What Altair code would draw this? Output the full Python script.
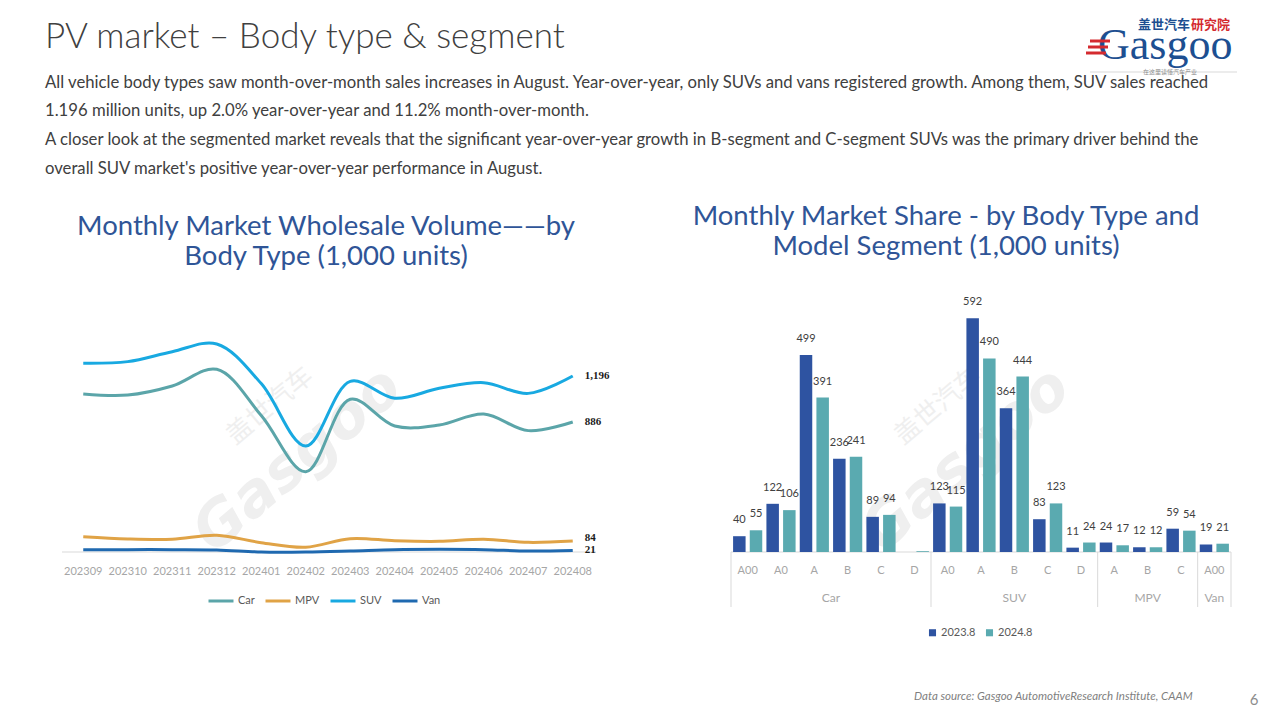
import altair as alt
import pandas as pd

# ---------------- data ----------------
months = ["202309", "202310", "202311", "202312", "202401", "202402",
          "202403", "202404", "202405", "202406", "202407", "202408"]
car = [1075, 1068, 1129, 1241, 930, 551, 1039, 859, 866, 940, 828, 886]
mpv = [113, 98, 96, 123, 73, 42, 100, 86, 82, 96, 75, 84]
suv = [1282, 1293, 1360, 1412, 1145, 724, 1160, 1046, 1113, 1151, 1079, 1196]
van = [26, 26, 26, 24, 10, 10, 17, 26, 28, 26, 17, 21]
body_types = ["Car", "MPV", "SUV", "Van"]
line_colors = ["#5ba5a9", "#e0a346", "#18a9e1", "#1f69b0"]

groups = ["Car"] * 6 + ["SUV"] * 5 + ["MPV"] * 3 + ["Van"]
segments = ["A00", "A0", "A", "B", "C", "D",
            "A0", "A", "B", "C", "D",
            "A", "B", "C",
            "A00"]
v2023 = [40, 122, 499, 236, 89, 0, 123, 592, 364, 83, 11, 24, 12, 59, 19]
v2024 = [55, 106, 391, 241, 94, 2, 115, 490, 444, 123, 24, 17, 12, 54, 21]
years = ["2023.8", "2024.8"]
bar_colors = ["#2e53a1", "#5aaab0"]
group_names = ["Car", "SUV", "MPV", "Van"]
group_start_keys = ["Car|A00", "SUV|A0", "MPV|A", "Van|A00"]
group_even_mid = ["Car|B"]            # label sits at left edge of this band
group_odd_mid = ["SUV|B", "MPV|B", "Van|A00"]  # label sits at centre of band

page_title = "PV market \u2013 Body type & segment"
paragraph = [
    "All vehicle body types saw month-over-month sales increases in August. Year-over-year, only SUVs and vans registered growth. Among them, SUV sales reached",
    "1.196 million units, up 2.0% year-over-year and 11.2% month-over-month.",
    "A closer look at the segmented market reveals that the significant year-over-year growth in B-segment and C-segment SUVs was the primary driver behind the",
    "overall SUV market's positive year-over-year performance in August.",
]
left_title = ["Monthly Market Wholesale Volume\u2014\u2014by", "Body Type (1,000 units)"]
right_title = ["Monthly Market Share - by Body Type and", "Model Segment (1,000 units)"]
footer = "Data source: Gasgoo AutomotiveResearch Institute, CAAM"
page_no = "6"

# ---------------- tables ----------------
line_df = pd.DataFrame({
    "month": months * 4,
    "type": sum([[t] * len(months) for t in body_types], []),
    "value": car + mpv + suv + van,
})
keys = [g + "|" + s for g, s in zip(groups, segments)]
bar_df = pd.DataFrame({
    "key": keys * 2,
    "seg": segments * 2,
    "year": [years[0]] * len(keys) + [years[1]] * len(keys),
    "value": v2023 + v2024,
})
seg_df = pd.DataFrame({"key": keys, "seg": segments})
one = pd.DataFrame({"a": [0]})

FONT = "Lato"
GREY = "#a6a6a6"
TXT = "#404040"
BLUE_T = "#2f5597"

# ---------------- left chart ----------------
XL = alt.X("month:O", scale=alt.Scale(type="point", domain=months, range=[53, 587], padding=0.5), axis=None)
YL = alt.Y("value:Q", scale=alt.Scale(domain=[0, 1500], range=[545.5, 322.9], nice=False, zero=True), axis=None)

lines = alt.Chart(line_df).mark_line(interpolate="catmull-rom", strokeWidth=3).encode(
    x=XL, y=YL,
    color=alt.Color("type:N", scale=alt.Scale(domain=body_types, range=line_colors),
                    legend=alt.Legend(orient="none", legendX=199, legendY=579, direction="horizontal",
                                      title=None, symbolType="stroke", symbolSize=625,
                                      symbolStrokeWidth=3, labelFontSize=11, labelColor="#595959",
                                      labelFont=FONT, columnPadding=4, labelOffset=3)),
)
end_lab_main = alt.Chart(line_df).transform_filter(
    "datum.month == '202408' && datum.type != 'MPV'"
).mark_text(align="left", baseline="middle", dx=12, font="Liberation Serif", fontWeight="bold",
            fontSize=11, color="#1a1a1a").encode(x=XL, y=YL, text=alt.Text("value:Q", format=","))
end_lab_mpv = alt.Chart(line_df).transform_filter(
    "datum.month == '202408' && datum.type == 'MPV'"
).mark_text(align="left", baseline="middle", dx=12, dy=-3, font="Liberation Serif", fontWeight="bold",
            fontSize=11, color="#1a1a1a").encode(x=XL, y=YL, text=alt.Text("value:Q", format=","))
xlabels_left = alt.Chart(pd.DataFrame({"month": months})).mark_text(
    fontSize=11, color=GREY, font=FONT, baseline="middle"
).encode(x=XL, y=alt.value(564), text="month:N")

left = alt.layer(lines, end_lab_main, end_lab_mpv, xlabels_left)

# ---------------- right chart ----------------
XR_scale = alt.Scale(domain=keys, range=[723, 1223], paddingInner=0, paddingOuter=0)
YR = alt.Y("value:Q", scale=alt.Scale(domain=[0, 600], range=[544, 307], nice=False), axis=None)
XO = alt.XOffset("year:N", scale=alt.Scale(domain=years, paddingInner=0.25, paddingOuter=0.125))

bars = alt.Chart(bar_df).mark_bar().encode(
    x=alt.X("key:N", scale=XR_scale, axis=None), y=YR, xOffset=XO,
    color=alt.Color("year:N", scale=alt.Scale(domain=years, range=bar_colors),
                    legend=alt.Legend(orient="none", legendX=919, legendY=619, direction="horizontal",
                                      title=None, symbolType="square", symbolSize=50,
                                      labelFontSize=11, labelColor="#595959", labelFont=FONT,
                                      columnPadding=8, labelOffset=3)),
)
bar_labels = alt.Chart(bar_df).transform_filter("datum.value >= 5").mark_text(
    dy=-16, fontSize=11, color=TXT, font=FONT, baseline="middle"
).encode(x=alt.X("key:N", scale=XR_scale, axis=None), y=YR, xOffset=XO, text="value:Q")
seg_labels = alt.Chart(seg_df).mark_text(fontSize=11, color=GREY, font=FONT, baseline="middle").encode(
    x=alt.X("key:N", scale=XR_scale, axis=None), y=alt.value(563), text="seg:N")
grp_even = alt.Chart(pd.DataFrame({"key": group_even_mid, "g": ["Car"]})).mark_text(
    fontSize=12, color=GREY, font=FONT, baseline="middle"
).encode(x=alt.X("key:N", scale=XR_scale, axis=None, bandPosition=0), y=alt.value(590), text="g:N")
grp_odd = alt.Chart(pd.DataFrame({"key": group_odd_mid, "g": group_names[1:]})).mark_text(
    fontSize=12, color=GREY, font=FONT, baseline="middle"
).encode(x=alt.X("key:N", scale=XR_scale, axis=None, bandPosition=0.5), y=alt.value(590), text="g:N")
sep_start = alt.Chart(pd.DataFrame({"key": group_start_keys})).mark_rule(color="#d9d9d9", strokeWidth=1).encode(
    x=alt.X("key:N", scale=XR_scale, axis=None, bandPosition=0), y=alt.value(544), y2=alt.value(599))
sep_end = alt.Chart(pd.DataFrame({"key": [keys[-1]]})).mark_rule(color="#d9d9d9", strokeWidth=1).encode(
    x=alt.X("key:N", scale=XR_scale, axis=None, bandPosition=1), y=alt.value(544), y2=alt.value(599))

right = alt.layer(bars, bar_labels, seg_labels, grp_even, grp_odd, sep_start, sep_end)

# ---------------- decorations ----------------
def txt(text, x, y, **kw):
    return alt.Chart(one).mark_text(text=text, **kw).encode(x=alt.value(x), y=alt.value(y))

def hrule(x1, x2, y, color, width):
    return alt.Chart(one).mark_rule(color=color, strokeWidth=width).encode(
        x=alt.value(x1), x2=alt.value(x2), y=alt.value(y))

wm_color = "#efefef"
decor = [
    txt("Gasgoo", 290, 452, fontSize=60, font="DejaVu Sans", fontWeight="bold", color=wm_color, angle=320, fontStyle="italic"),
    txt("盖世汽车", 262, 398, fontSize=26, font="Noto Sans CJK SC", color=wm_color, angle=320),
    txt("Gasgoo", 958, 452, fontSize=60, font="DejaVu Sans", fontWeight="bold", color=wm_color, angle=320, fontStyle="italic"),
    txt("盖世汽车", 930, 398, fontSize=26, font="Noto Sans CJK SC", color=wm_color, angle=320),
    txt(page_title, 37, 39.5, fontSize=35, font=FONT, fontWeight=300, color=TXT, align="left", baseline="alphabetic"),
    txt(paragraph, 37, 79.5, fontSize=16.7, font=FONT, color=TXT, align="left", baseline="alphabetic", lineHeight=28.9),
    txt(left_title, 318, 226.5, fontSize=27.5, font=FONT, color=BLUE_T, align="center", baseline="alphabetic", lineHeight=30),
    txt(right_title, 938, 216.5, fontSize=27.5, font=FONT, color=BLUE_T, align="center", baseline="alphabetic", lineHeight=30),
    hrule(54, 588, 544, "#d9d9d9", 1),
    hrule(723, 1223, 544, "#d9d9d9", 1),
    # logo
    txt("盖世汽车", 1130, 17, fontSize=13, font="Noto Sans CJK SC", fontWeight="bold", color="#1d4f91", align="left", baseline="middle"),
    txt("研究院", 1183, 17, fontSize=13, font="Noto Sans CJK SC", fontWeight="bold", color="#d42a2f", align="left", baseline="middle"),
    txt("Gasgoo", 1090, 51, fontSize=44, font="Liberation Serif", color="#1d4f91", align="left", baseline="alphabetic"),
    hrule(1082, 1102, 33, "#d42a2f", 3),
    hrule(1080, 1100, 39, "#d42a2f", 3),
    hrule(1078, 1098, 45, "#d42a2f", 3),
    hrule(1082, 1229, 64, "#bfbfbf", 0.6),
    txt("在这里读懂汽车产业", 1162, 64, fontSize=6, font="Noto Sans CJK SC", color="#8c8c8c", baseline="middle"),
    # footer
    txt(footer, 906, 689, fontSize=11.5, font=FONT, fontStyle="italic", color="#7f7f7f", align="left", baseline="middle"),
    txt(page_no, 1246, 692, fontSize=15, font=FONT, color="#8c8c8c", align="center", baseline="middle"),
]

chart = alt.layer(*decor, left, right).resolve_scale(
    x="independent", y="independent", color="independent"
).properties(
    width=1264, height=704, autosize=alt.AutoSizeParams(type="none"), padding=0,
    background="white",
).configure_view(stroke=None)

chart.save("out.html", embed_options={"renderer": "svg", "actions": False})
